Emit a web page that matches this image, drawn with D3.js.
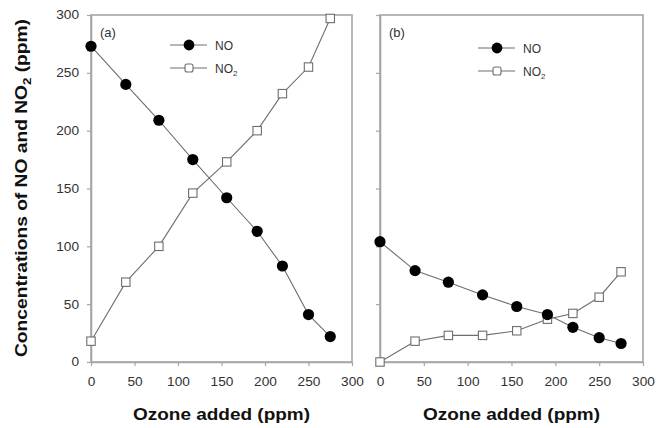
<!DOCTYPE html>
<html><head><meta charset="utf-8">
<script src="https://cdn.jsdelivr.net/npm/d3@7"></script>
<style>body{margin:0;background:#fff}svg{display:block}</style>
</head><body>
<svg id="c" width="666" height="428"></svg>
<script>
const ozone = [0, 40, 78, 117, 156, 191, 220, 250, 275];
const noA  = [273, 240, 209, 175, 142, 113, 83, 41, 22];
const no2A = [18, 69, 100, 146, 173, 200, 232, 255, 297];
const noB  = [104, 79, 69, 58, 48, 41, 30, 21, 16];
const no2B = [0, 18, 23, 23, 27, 37, 42, 56, 78];
const xTicks = [0, 50, 100, 150, 200, 250, 300];
const yTicks = [0, 50, 100, 150, 200, 250, 300];

const svg = d3.select("#c");
const font = "'Liberation Sans', Arial, sans-serif";
const frameCol = "#a6a6a6", lineCol = "#6e6e6e", textCol = "#333";

const panels = [
  {x0: 91, x1: 352, no: noA, no2: no2A, label: "(a)", yLabels: true, leg: {x: 170, y: 45}},
  {x0: 380, x1: 643, no: noB, no2: no2B, label: "(b)", yLabels: false, leg: {x: 478, y: 48}}
];
const yTop = 15, yBottom = 362;
const y = d3.scaleLinear().domain([0, 300]).range([yBottom, yTop]);

panels.forEach(p => {
  const x = d3.scaleLinear().domain([0, 300]).range([p.x0, p.x1]);
  const g = svg.append("g");
  g.append("rect").attr("x", p.x0).attr("y", yTop).attr("width", p.x1 - p.x0).attr("height", yBottom - yTop)
    .attr("fill", "none").attr("stroke", frameCol).attr("stroke-width", 1.6);
  const gx = g.append("g").attr("transform", `translate(0,${yBottom})`)
    .call(d3.axisBottom(x).tickValues(xTicks).tickSize(4).tickPadding(11).tickSizeOuter(0));
  const gy = g.append("g").attr("transform", `translate(${p.x0},0)`)
    .call(d3.axisLeft(y).tickValues(yTicks).tickSize(4).tickPadding(8).tickSizeOuter(0)
      .tickFormat(p.yLabels ? d3.format("d") : () => ""));
  [gx, gy].forEach(a => {
    a.select(".domain").attr("stroke", frameCol).attr("stroke-width", 1.6);
    a.selectAll(".tick line").attr("stroke", frameCol).attr("stroke-width", 1.2);
    a.selectAll(".tick text").attr("fill", textCol).style("font-family", font).style("font-size", "12px")
      .each(function(){ const t = d3.select(this).text(); if (t) d3.select(this).attr("textLength", t.length * 7.6).attr("lengthAdjust", "spacingAndGlyphs"); });
  });
  const line = d3.line().x((d, i) => x(ozone[i])).y(d => y(d));
  g.append("path").datum(p.no).attr("d", line).attr("fill", "none").attr("stroke", lineCol).attr("stroke-width", 1.1);
  g.append("path").datum(p.no2).attr("d", line).attr("fill", "none").attr("stroke", lineCol).attr("stroke-width", 1.1);
  g.selectAll(".sq").data(p.no2).enter().append("rect")
    .attr("x", (d, i) => x(ozone[i]) - 4.2).attr("y", d => y(d) - 4.2).attr("width", 8.4).attr("height", 8.4)
    .attr("fill", "#fff").attr("stroke", lineCol).attr("stroke-width", 1.1);
  g.selectAll(".ci").data(p.no).enter().append("circle")
    .attr("cx", (d, i) => x(ozone[i])).attr("cy", d => y(d)).attr("r", 5.6).attr("fill", "#000");
  g.append("text").attr("x", p.x0 + 9).attr("y", 37).text(p.label)
    .attr("fill", textCol).style("font-family", font).style("font-size", "13px");
  const L = p.leg;
  g.append("line").attr("x1", L.x).attr("x2", L.x + 37).attr("y1", L.y).attr("y2", L.y).attr("stroke", lineCol).attr("stroke-width", 1.1);
  g.append("circle").attr("cx", L.x + 19).attr("cy", L.y).attr("r", 5.4).attr("fill", "#000");
  g.append("text").attr("x", L.x + 45).attr("y", L.y + 4.5).text("NO").attr("fill", textCol)
    .style("font-family", font).style("font-size", "12px");
  const L2 = L.y + 23;
  g.append("line").attr("x1", L.x).attr("x2", L.x + 37).attr("y1", L2).attr("y2", L2).attr("stroke", lineCol).attr("stroke-width", 1.1);
  g.append("rect").attr("x", L.x + 15).attr("y", L2 - 4).attr("width", 8).attr("height", 8).attr("rx", 2)
    .attr("fill", "#fff").attr("stroke", lineCol).attr("stroke-width", 1.1);
  const t2 = g.append("text").attr("x", L.x + 45).attr("y", L2 + 4.5).attr("fill", textCol)
    .style("font-family", font).style("font-size", "12px");
  t2.append("tspan").text("NO");
  t2.append("tspan").text("2").attr("dy", 3).style("font-size", "8px");
  g.append("text").attr("x", (p.x0 + p.x1) / 2).attr("y", 420).attr("text-anchor", "middle")
    .text("Ozone added (ppm)").attr("textLength", 177).attr("lengthAdjust", "spacingAndGlyphs")
    .attr("fill", "#111").style("font-family", font).style("font-size", "16px").style("font-weight", "bold");
});

const yt = svg.append("text").attr("transform", "translate(27,188) rotate(-90)").attr("text-anchor", "middle")
  .attr("fill", "#111").style("font-family", font).style("font-size", "16px").style("font-weight", "bold")
  .attr("textLength", 338).attr("lengthAdjust", "spacingAndGlyphs");
yt.append("tspan").text("Concentrations of NO and NO");
yt.append("tspan").text("2").attr("dy", 4).style("font-size", "11px");
yt.append("tspan").text(" (ppm)").attr("dy", -4);
</script>
</body></html>
